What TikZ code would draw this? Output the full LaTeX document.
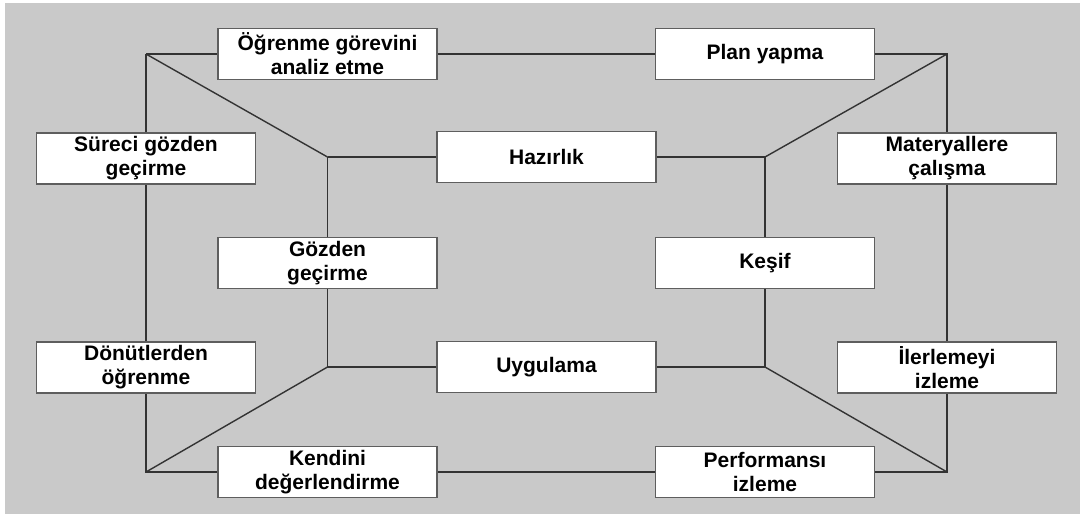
\documentclass[tikz,border=0pt]{standalone}
\usepackage{fontspec}
\setmainfont{Liberation Sans}
\definecolor{panel}{HTML}{C9C9C9}
\definecolor{boxline}{HTML}{5E5E5E}
\definecolor{wire}{HTML}{333333}
\begin{document}
\begin{tikzpicture}[x=1pt,y=-1pt,
  stage/.style={draw=boxline,line width=1.4pt,fill=white,minimum width=219pt,
    minimum height=51pt,inner sep=0pt,align=center,
    font=\fontsize{21}{24}\selectfont\bfseries},
  link/.style={draw=wire,line width=1.4pt}]
\useasboundingbox (0,0) rectangle (1086,519);
\fill[panel] (5,3) rectangle (1080,514);

% corners of the outer and inner frames
\coordinate (TL) at (146,54);
\coordinate (TR) at (947,54);
\coordinate (BL) at (146,472);
\coordinate (BR) at (947,472);
\coordinate (iTL) at (327.5,157);
\coordinate (iTR) at (765,157);
\coordinate (iBL) at (327.5,367);
\coordinate (iBR) at (765,367);

% outer ring
\node[stage] (ogr)   at (327.5,54)  {Öğrenme görevini\\analiz etme};
\node[stage] (plan)  at (765,54)    {Plan yapma};
\node[stage] (mat)   at (947,158.5) {Materyallere\\çalışma};
\node[stage] (iler)  at (947,367.5) {İlerlemeyi\\izleme};
\node[stage] (perf)  at (765,472)   {Performansı\\izleme};
\node[stage] (kend)  at (327.5,472) {Kendini\\değerlendirme};
\node[stage] (donut) at (146,367.5) {Dönütlerden\\öğrenme};
\node[stage] (surec) at (146,158.5) {Süreci gözden\\geçirme};

% inner ring
\node[stage] (haz)    at (546.5,157)  {Hazırlık};
\node[stage] (kesif)  at (765,263)    {Keşif};
\node[stage] (uyg)    at (546.5,367)  {Uygulama};
\node[stage] (gozden) at (327.5,263)  {Gözden\\geçirme};

% outer frame
\path[link] (TL) -- (ogr) -- (plan) -- (TR) -- (mat) -- (iler) -- (BR)
  -- (perf) -- (kend) -- (BL) -- (donut) -- (surec) -- (TL);
% inner frame
\path[link] (iTL) -- (haz) -- (iTR) -- (kesif) -- (iBR) -- (uyg)
  -- (iBL) -- (gozden) -- (iTL);
% diagonals joining the frames
\path[link] (TL) -- (iTL);
\path[link] (TR) -- (iTR);
\path[link] (BL) -- (iBL);
\path[link] (BR) -- (iBR);
\end{tikzpicture}
\end{document}
